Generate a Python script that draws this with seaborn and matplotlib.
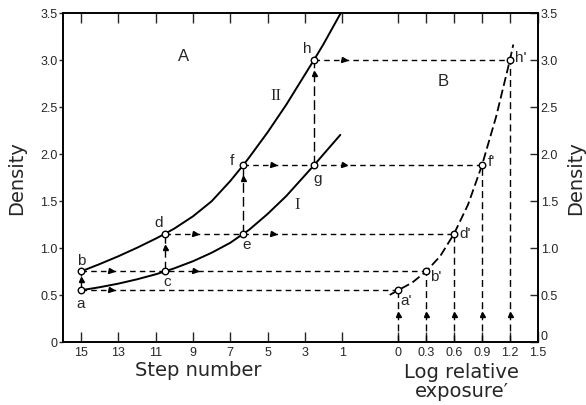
import numpy as np
import pandas as pd
import matplotlib
matplotlib.use("Agg")
import matplotlib.pyplot as plt
import seaborn as sns

# ---------------- data ----------------
# Panel A: characteristic curves vs. step number
step_I = [15, 14, 13, 12, 11, 10.5, 10, 9, 8, 7, 6.3, 6, 5, 4, 3, 2.5, 2, 1.1]
dens_I = [0.55, 0.582, 0.62, 0.666, 0.719, 0.75, 0.783, 0.858, 0.948, 1.054,
          1.15, 1.19, 1.36, 1.55, 1.77, 1.88, 1.995, 2.2]
step_II = [15, 14, 13, 12, 11, 10.5, 10, 9, 8, 7, 6.3, 6, 5, 4, 3, 2.5, 2, 1.06]
dens_II = [0.75, 0.828, 0.911, 1.001, 1.098, 1.15, 1.205, 1.335, 1.495, 1.71,
           1.88, 1.957, 2.227, 2.52, 2.84, 3.0, 3.165, 3.5]

# Panel B: derived curve vs. log relative exposure
log_B = [-0.09, 0.0, 0.15, 0.3, 0.45, 0.6, 0.75, 0.9, 1.05, 1.2, 1.235]
dens_B = [0.50, 0.55, 0.63, 0.75, 0.91, 1.15, 1.46, 1.88, 2.39, 3.0, 3.16]

# labelled points
ptA_labels = ["a", "b", "c", "d", "e", "f", "g", "h"]
ptA_step = [15, 15, 10.5, 10.5, 6.3, 6.3, 2.5, 2.5]
ptA_dens = [0.55, 0.75, 0.75, 1.15, 1.15, 1.88, 1.88, 3.0]
ptB_labels = ["a'", "b'", "d'", "f'", "h'"]
ptB_log = [0.0, 0.3, 0.6, 0.9, 1.2]
ptB_dens = [0.55, 0.75, 1.15, 1.88, 3.0]

step_ticks = [15, 13, 11, 9, 7, 5, 3, 1]
log_ticks = [0.0, 0.3, 0.6, 0.9, 1.2, 1.5]
log_tick_labels = ["0", "0.3", "0.6", "0.9", "1.2", "1.5"]
dens_ticks = [0, 0.5, 1.0, 1.5, 2.0, 2.5, 3.0, 3.5]
dens_tick_labels = ["0", "0.5", "1.0", "1.5", "2.0", "2.5", "3.0", "3.5"]

# ---------------- shared horizontal scale ----------------
def u_step(s):
    return 15 - np.asarray(s, float)

def u_log(l):
    return 17 + 5 * np.asarray(l, float)

sns.set_style("ticks")
plt.rcParams["font.family"] = ["Liberation Sans", "DejaVu Sans"]

fig = plt.figure(figsize=(5.86, 4.06), dpi=100)
ax = fig.add_axes([63 / 586, 63 / 406, 475 / 586, 329.5 / 406])
ax.set_xlim(-0.97, 24.5)
ax.set_ylim(0, 3.5)

dfI = pd.DataFrame({"u": u_step(step_I), "D": dens_I})
dfII = pd.DataFrame({"u": u_step(step_II), "D": dens_II})
dfB = pd.DataFrame({"u": u_log(log_B), "D": dens_B})

sns.lineplot(data=dfI, x="u", y="D", ax=ax, color="black", lw=1.4, sort=False)
sns.lineplot(data=dfII, x="u", y="D", ax=ax, color="black", lw=1.4, sort=False)
sns.lineplot(data=dfB, x="u", y="D", ax=ax, color="black", lw=1.3, sort=False)
ax.lines[-1].set_dashes((5, 2.2))

uA = u_step(ptA_step)
uB = u_log(ptB_log)

# horizontal transfer lines A -> B
src = ["a", "b", "d", "f", "h"]
for lab, ub, db in zip(src, uB, ptB_dens):
    i = ptA_labels.index(lab)
    ax.plot([uA[i], ub], [ptA_dens[i], db], color="black", lw=1.0,
            dashes=(4, 3), zorder=2)
    for j, d in enumerate(ptA_dens):
        if abs(d - db) < 1e-9:
            ax.plot(uA[j] + 1.6, d, marker=">", ms=3.6, color="black",
                    ls="none", zorder=3)

# vertical lines between curves
pairs = [("a", "b"), ("c", "d"), ("e", "f"), ("g", "h")]
for lo, hi in pairs:
    i, k = ptA_labels.index(lo), ptA_labels.index(hi)
    ax.plot([uA[i], uA[k]], [ptA_dens[i], ptA_dens[k]], color="black",
            lw=1.0, dashes=(7, 3), zorder=2)
    gap = min(0.14, (ptA_dens[k] - ptA_dens[i]) * 0.4)
    ax.plot(uA[k], ptA_dens[k] - gap, marker="^", ms=3.6, color="black",
            ls="none", zorder=3)

# vertical lines from the exposure axis
for ub, db in zip(uB, ptB_dens):
    ax.plot([ub, ub], [0, db], color="black", lw=1.0, dashes=(5, 3), zorder=2)
    ax.plot(ub, 0.3, marker="^", ms=3.6, color="black", ls="none", zorder=3)

# open circle markers
dfpts = pd.DataFrame({"u": np.concatenate([uA, uB]),
                      "D": ptA_dens + ptB_dens})
sns.scatterplot(data=dfpts, x="u", y="D", ax=ax, s=22, facecolor="white",
                edgecolor="black", linewidth=1.0, zorder=5)

# point labels
offA = {"a": (0, -13), "b": (0, 11), "c": (2, -10), "d": (-6, 12),
        "e": (3, -10), "f": (-11, 5), "g": (3, -13), "h": (-7, 12)}
for lab, u, d in zip(ptA_labels, uA, ptA_dens):
    ax.annotate(lab, (u, d), xytext=offA[lab], textcoords="offset pixels",
                ha="center", va="center", fontsize=11)
offB = {"a'": (8, -10), "b'": (10, -5), "d'": (11, 1), "f'": (9, 4),
        "h'": (11, 3)}
for lab, u, d in zip(ptB_labels, uB, ptB_dens):
    ax.annotate(lab, (u, d), xytext=offB[lab], textcoords="offset pixels",
                ha="center", va="center", fontsize=11)

ax.text(5.47, 3.04, "A", fontsize=12, ha="center", va="center")
ax.text(19.4, 2.78, "B", fontsize=12, ha="center", va="center")
ax.text(10.46, 2.62, "II", fontsize=12, ha="center", va="center",
        family=["Liberation Serif", "DejaVu Serif"])
ax.text(11.58, 1.47, "I", fontsize=12, ha="center", va="center",
        family=["Liberation Serif", "DejaVu Serif"])

# ticks
ax.set_xticks(list(u_step(step_ticks)) + list(u_log(log_ticks)))
ax.set_xticklabels([str(s) for s in step_ticks] + log_tick_labels, fontsize=9)
ax.tick_params(axis="x", direction="in", length=7, width=1.0, top=True,
               labeltop=False, pad=3)
ax.set_yticks(dens_ticks)
ax.set_yticklabels(dens_tick_labels, fontsize=9)
ax.tick_params(axis="y", direction="out", length=3, width=1.0, pad=1)
ax.set_xlabel("")
ax.set_ylabel("Density", fontsize=14, family=["DejaVu Sans"], labelpad=10)

ax2 = ax.twinx()
ax2.set_ylim(0, 3.5)
ax2.set_yticks(dens_ticks)
ax2.set_yticklabels(dens_tick_labels, fontsize=9)
ax2.tick_params(axis="y", direction="in", length=6, width=1.0, pad=2)
ax2.get_yticklabels()[0].set_va("bottom")
ax2.set_ylabel("Density", fontsize=14, family=["DejaVu Sans"], labelpad=6)

for a in (ax, ax2):
    for sp in a.spines.values():
        sp.set_visible(True)
        sp.set_linewidth(1.2)
        sp.set_color("black")

ax.text(6.3, -0.082, "Step number", transform=ax.get_xaxis_transform(),
        ha="center", va="center", fontsize=14, family=["DejaVu Sans"])
ax.text(20.4, -0.117, "Log relative\nexposure\u2032", transform=ax.get_xaxis_transform(),
        ha="center", va="center", fontsize=14, family=["DejaVu Sans"],
        linespacing=1.0)

fig.savefig("out.png", dpi=100)
